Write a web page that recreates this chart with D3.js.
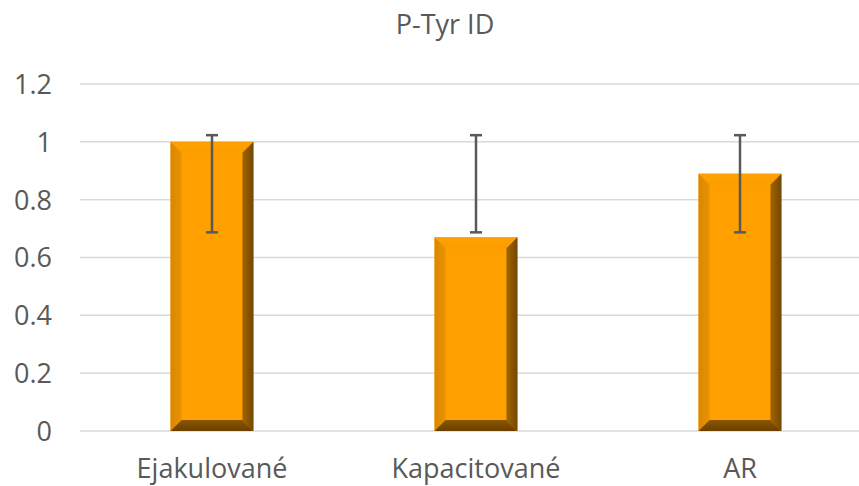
<!DOCTYPE html>
<html><head><meta charset="utf-8">
<script src="https://cdn.jsdelivr.net/npm/d3@7"></script>
<style>html,body{margin:0;padding:0;background:#fff;}svg{display:block;}</style>
</head><body><svg id="c" width="859" height="486"></svg>
<script>
const title = "P-Tyr ID";
const categories = ["Ejakulované", "Kapacitované", "AR"];
const values = [1.0, 0.67, 0.89];
const errLow = [0.687, 0.687, 0.687];
const errHigh = [1.023, 1.023, 1.023];
const yTicks = [0, 0.2, 0.4, 0.6, 0.8, 1, 1.2];

const svg = d3.select("#c");
const font = "'Open Sans', sans-serif";
const x = d3.scaleBand().domain(categories).range([80, 872]).paddingInner(0.686).paddingOuter(0.343);
const y = d3.scaleLinear().domain([0, 1.2]).range([431, 84]);

// gridlines
svg.append("g").selectAll("line").data(yTicks).join("line")
  .attr("x1", 80).attr("x2", 859).attr("y1", d => y(d)).attr("y2", d => y(d))
  .attr("stroke", "#d9d9d9").attr("stroke-width", 1.5);

// y axis labels
const yAxis = d3.axisLeft(y).tickValues(yTicks).tickFormat(d3.format("~g")).tickSize(0).tickPadding(0);
const ya = svg.append("g").attr("transform", "translate(52,0)").call(yAxis);
ya.select(".domain").remove();
ya.selectAll("text").attr("font-family", font).attr("font-size", 27).attr("fill", "#595959").attr("dy", "0.35em");

// x axis labels
const xAxis = d3.axisBottom(x).tickSize(0).tickPadding(0);
const xa = svg.append("g").attr("transform", "translate(0,478)").call(xAxis);
xa.select(".domain").remove();
xa.selectAll("text").attr("font-family", font).attr("font-size", 27).attr("fill", "#595959").attr("dy", 0);

// title
svg.append("text").attr("x", 445).attr("y", 34).attr("text-anchor", "middle")
  .attr("font-family", font).attr("font-size", 27).attr("fill", "#595959").text(title);

// gradients
const defs = svg.append("defs");
function grad(id, x1, y1, x2, y2, stops) {
  const g = defs.append("linearGradient").attr("id", id).attr("x1", x1).attr("y1", y1).attr("x2", x2).attr("y2", y2);
  stops.forEach(s => g.append("stop").attr("offset", s[0]).attr("stop-color", s[1]));
}
grad("gl", 0, 0, 1, 0, [[0, "#d98700"], [1, "#e99400"]]);
grad("gr", 0, 0, 1, 0, [[0, "#a06500"], [1, "#744600"]]);
grad("gb", 0, 0, 0, 1, [[0, "#8a5600"], [1, "#6a4000"]]);
grad("gt", 0, 0, 0, 1, [[0, "#ffa200"], [1, "#fb9d00"]]);

const b = 11;
const bars = svg.append("g").selectAll("g").data(categories).join("g");
bars.each(function(c, i) {
  const g = d3.select(this);
  const x0 = x(c), x1 = x(c) + x.bandwidth();
  const y0 = y(values[i]), y1 = y(0);
  g.append("rect").attr("x", x0).attr("y", y0).attr("width", x1 - x0).attr("height", y1 - y0).attr("fill", "#ff9f00");
  const poly = (pts, fill) => g.append("polygon").attr("points", pts.map(p => p.join(",")).join(" ")).attr("fill", fill);
  poly([[x0, y0], [x1, y0], [x1 - b, y0 + b], [x0 + b, y0 + b]], "url(#gt)");
  poly([[x0, y0], [x0 + b, y0 + b], [x0 + b, y1 - b], [x0, y1]], "url(#gl)");
  poly([[x1, y0], [x1, y1], [x1 - b, y1 - b], [x1 - b, y0 + b]], "url(#gr)");
  poly([[x0, y1], [x0 + b, y1 - b], [x1 - b, y1 - b], [x1, y1]], "url(#gb)");
});

// error bars
const eb = svg.append("g").attr("stroke", "#595959").attr("stroke-width", 2.5);
categories.forEach((c, i) => {
  const cx = x(c) + x.bandwidth() / 2;
  eb.append("line").attr("x1", cx).attr("x2", cx).attr("y1", y(errLow[i])).attr("y2", y(errHigh[i]));
  [errLow[i], errHigh[i]].forEach(v => eb.append("line").attr("x1", cx - 6).attr("x2", cx + 6).attr("y1", y(v)).attr("y2", y(v)));
});
</script></body></html>
